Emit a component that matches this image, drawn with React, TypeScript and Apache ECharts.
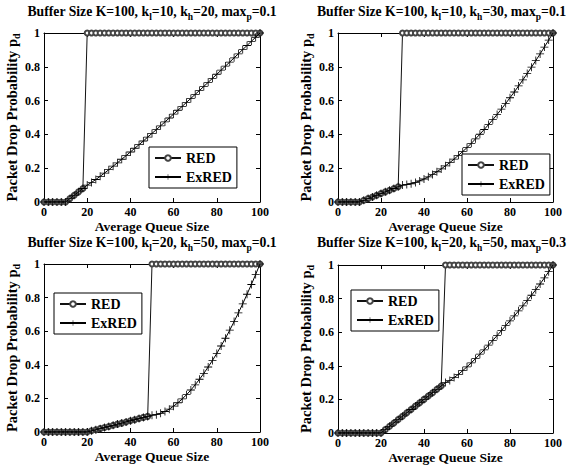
import React, { useEffect, useRef } from 'react';
import * as echarts from 'echarts';

const FONT = 'Liberation Serif';

// Average queue size samples
const xs = [0, 2, 4, 6, 8, 10, 12, 14, 16, 18, 20, 22, 24, 26, 28, 30, 32, 34, 36, 38, 40, 42, 44, 46, 48, 50,
  52, 54, 56, 58, 60, 62, 64, 66, 68, 70, 72, 74, 76, 78, 80, 82, 84, 86, 88, 90, 92, 94, 96, 98, 100];

// Panel 1: K=100, kl=10, kh=20, maxp=0.1
const red1 = [0, 0, 0, 0, 0, 0, 0.02, 0.04, 0.06, 0.08,
  1, 1, 1, 1, 1, 1, 1, 1, 1, 1, 1, 1, 1, 1, 1, 1, 1, 1, 1, 1, 1, 1, 1, 1, 1, 1, 1, 1, 1, 1, 1, 1, 1, 1, 1, 1, 1, 1, 1, 1, 1];
const exred1 = [0, 0, 0, 0, 0, 0, 0.02, 0.04, 0.06, 0.08, 0.10,
  0.116, 0.133, 0.152, 0.171, 0.191, 0.212, 0.232, 0.253, 0.274, 0.296, 0.318, 0.339, 0.361, 0.384, 0.406,
  0.428, 0.451, 0.474, 0.497, 0.520, 0.543, 0.566, 0.590, 0.613, 0.637, 0.660, 0.684, 0.708, 0.732, 0.756,
  0.780, 0.804, 0.828, 0.853, 0.877, 0.902, 0.926, 0.951, 0.975, 1];

// Panel 2: K=100, kl=10, kh=30, maxp=0.1
const red2 = [0, 0, 0, 0, 0, 0, 0.01, 0.02, 0.03, 0.04, 0.05, 0.06, 0.07, 0.08, 0.09,
  1, 1, 1, 1, 1, 1, 1, 1, 1, 1, 1, 1, 1, 1, 1, 1, 1, 1, 1, 1, 1, 1, 1, 1, 1, 1, 1, 1, 1, 1, 1, 1, 1, 1, 1, 1];
const exred2 = [0, 0, 0, 0, 0, 0, 0.01, 0.02, 0.03, 0.04, 0.05, 0.06, 0.07, 0.08, 0.09, 0.10,
  0.103, 0.108, 0.116, 0.125, 0.136, 0.149, 0.163, 0.179, 0.196, 0.214, 0.233, 0.254, 0.276, 0.298, 0.322,
  0.347, 0.374, 0.401, 0.429, 0.458, 0.487, 0.518, 0.550, 0.583, 0.617, 0.651, 0.687, 0.723, 0.760, 0.798,
  0.837, 0.876, 0.917, 0.958, 1];

// Panel 3: K=100, kl=20, kh=50, maxp=0.1
const red3 = [0, 0, 0, 0, 0, 0, 0, 0, 0, 0, 0,
  0.007, 0.013, 0.020, 0.027, 0.033, 0.040, 0.047, 0.053, 0.060, 0.067, 0.073, 0.080, 0.087, 0.093,
  1, 1, 1, 1, 1, 1, 1, 1, 1, 1, 1, 1, 1, 1, 1, 1, 1, 1, 1, 1, 1, 1, 1, 1, 1, 1];
const exred3 = [0, 0, 0, 0, 0, 0, 0, 0, 0, 0, 0,
  0.007, 0.013, 0.020, 0.027, 0.033, 0.040, 0.047, 0.053, 0.060, 0.067, 0.073, 0.080, 0.087, 0.093, 0.10,
  0.103, 0.111, 0.122, 0.136, 0.154, 0.174, 0.197, 0.222, 0.250, 0.281, 0.314, 0.349, 0.387, 0.426, 0.468,
  0.512, 0.558, 0.606, 0.657, 0.709, 0.763, 0.820, 0.878, 0.938, 1];

// Panel 4: K=100, kl=20, kh=50, maxp=0.3
const red4 = [0, 0, 0, 0, 0, 0, 0, 0, 0, 0, 0,
  0.02, 0.04, 0.06, 0.08, 0.10, 0.12, 0.14, 0.16, 0.18, 0.20, 0.22, 0.24, 0.26, 0.28,
  1, 1, 1, 1, 1, 1, 1, 1, 1, 1, 1, 1, 1, 1, 1, 1, 1, 1, 1, 1, 1, 1, 1, 1, 1, 1];
const exred4 = [0, 0, 0, 0, 0, 0, 0, 0, 0, 0, 0,
  0.02, 0.04, 0.06, 0.08, 0.10, 0.12, 0.14, 0.16, 0.18, 0.20, 0.22, 0.24, 0.26, 0.28, 0.30,
  0.312, 0.330, 0.349, 0.371, 0.394, 0.418, 0.443, 0.469, 0.495, 0.523, 0.551, 0.580, 0.609, 0.639, 0.668,
  0.697, 0.727, 0.757, 0.788, 0.820, 0.853, 0.887, 0.923, 0.960, 1];

const kLow = ['10', '10', '20', '20'];
const kHigh = ['20', '30', '50', '50'];
const maxP = ['0.1', '0.1', '0.1', '0.3'];
const redSets = [red1, red2, red3, red4];
const exredSets = [exred1, exred2, exred3, exred4];

const xTicks = { min: 0, max: 100, interval: 20 };
const yTicks = { min: 0, max: 1, interval: 0.2 };

const GRIDS = [
  { left: 44, top: 33, width: 216, height: 169 },
  { left: 338, top: 33, width: 215, height: 169 },
  { left: 44, top: 264, width: 216, height: 168 },
  { left: 338, top: 265, width: 215, height: 168 },
];
const LEGENDS = [
  { left: 149, top: 147 },
  { left: 462, top: 154 },
  { left: 54, top: 293 },
  { left: 351, top: 290 },
];
// title anchor: x, y, alignment
const TITLES = [
  { x: 152, y: 3, align: 'center' },
  { x: 566, y: 3, align: 'right' },
  { x: 152, y: 234, align: 'center' },
  { x: 566, y: 234, align: 'right' },
];

const PLUS = 'path://M-0.1,-1H0.1V-0.1H1V0.1H0.1V1H-0.1V0.1H-1V-0.1H-0.1Z';

export default function App() {
  const ref = useRef<HTMLDivElement>(null);
  useEffect(() => {
    if (!ref.current) return;
    const chart = echarts.init(ref.current, undefined, { renderer: 'svg' });
    const txt = { fontFamily: FONT, fontWeight: 'bold' as const, color: '#000' };

    const grid = GRIDS.map((g) => ({ ...g, containLabel: false }));
    const xAxis: any[] = [];
    const yAxis: any[] = [];
    const series: any[] = [];
    const graphic: any[] = [];

    GRIDS.forEach((g, i) => {
      xAxis.push({
        type: 'value', gridIndex: i, position: 'bottom', ...xTicks,
        axisLine: { show: true, onZero: false, lineStyle: { color: '#000', width: 1 } },
        axisTick: { show: true, inside: true, length: 4, lineStyle: { color: '#000' } },
        axisLabel: { ...txt, fontSize: 12, margin: 4 },
        splitLine: { show: false },
        name: 'Average Queue Size', nameLocation: 'middle', nameGap: 17,
        nameTextStyle: { ...txt, fontSize: 13.5 },
      });
      xAxis.push({
        type: 'value', gridIndex: i, position: 'top', ...xTicks,
        axisLine: { show: true, onZero: false, lineStyle: { color: '#000', width: 1 } },
        axisTick: { show: true, inside: true, length: 4, lineStyle: { color: '#000' } },
        axisLabel: { show: false }, splitLine: { show: false },
      });
      yAxis.push({
        type: 'value', gridIndex: i, position: 'left', ...yTicks,
        axisLine: { show: true, onZero: false, lineStyle: { color: '#000', width: 1 } },
        axisTick: { show: true, inside: true, length: 4, lineStyle: { color: '#000' } },
        axisLabel: { ...txt, fontSize: 12, margin: 4 },
        splitLine: { show: false },
        name: '{m|Packet Drop Probability p}{s|d}', nameLocation: 'middle', nameGap: 24, nameRotate: 90,
        nameTextStyle: {
          ...txt, fontSize: 14.5,
          rich: {
            m: { ...txt, fontSize: 14.5, lineHeight: 17 },
            s: { ...txt, fontSize: 10, lineHeight: 11, padding: [9, 0, 0, 0] },
          },
        },
      });
      yAxis.push({
        type: 'value', gridIndex: i, position: 'right', ...yTicks,
        axisLine: { show: true, onZero: false, lineStyle: { color: '#000', width: 1 } },
        axisTick: { show: true, inside: true, length: 4, lineStyle: { color: '#000' } },
        axisLabel: { show: false }, splitLine: { show: false },
      });

      series.push({
        type: 'line', name: 'RED', xAxisIndex: 2 * i, yAxisIndex: 2 * i,
        data: xs.map((x, k) => [x, redSets[i][k]]),
        symbol: 'emptyCircle', symbolSize: 5, showSymbol: true,
        lineStyle: { color: '#111', width: 1 },
        itemStyle: { color: '#444', borderColor: '#444', borderWidth: 0.8 },
        z: 2,
      });
      series.push({
        type: 'line', name: 'ExRED', xAxisIndex: 2 * i, yAxisIndex: 2 * i,
        data: xs.map((x, k) => [x, exredSets[i][k]]),
        symbol: PLUS, symbolSize: 8, showSymbol: true,
        lineStyle: { color: '#000', width: 1 },
        itemStyle: { color: '#000', borderWidth: 0 },
        z: 3,
      });

      const t = TITLES[i];
      graphic.push({
        type: 'text',
        x: t.x,
        y: t.y,
        style: {
          text: `{m|Buffer Size K=100, k}{s|l}{m|=${kLow[i]}, k}{s|h}{m|=${kHigh[i]}, max}{s|p}{m|=${maxP[i]}}`,
          align: t.align,
          verticalAlign: 'top',
          rich: {
            m: { fontFamily: FONT, fontWeight: 'bold', fill: '#000', fontSize: 13.7, lineHeight: 17 },
            s: { fontFamily: FONT, fontWeight: 'bold', fill: '#000', fontSize: 9.5, lineHeight: 10, padding: [11, 0, 0, 0] },
          },
        },
      });
    });

    const legend = LEGENDS.map((l) => ({
      orient: 'vertical', left: l.left, top: l.top,
      data: ['RED', 'ExRED'],
      itemWidth: 26, itemHeight: 7, itemGap: 5,
      padding: [4, 5, 4, 5],
      borderColor: '#000', borderWidth: 1, borderRadius: 0, backgroundColor: '#fff',
      textStyle: { ...txt, fontSize: 14 },
      selectedMode: false,
    }));

    chart.setOption({
      animation: false,
      backgroundColor: '#fff',
      grid, xAxis, yAxis, series, legend, graphic,
    });
    return () => chart.dispose();
  }, []);
  return <div ref={ref} style={{ position: 'fixed', left: 0, top: 0, width: 569, height: 468, background: '#fff' }} />;
}
